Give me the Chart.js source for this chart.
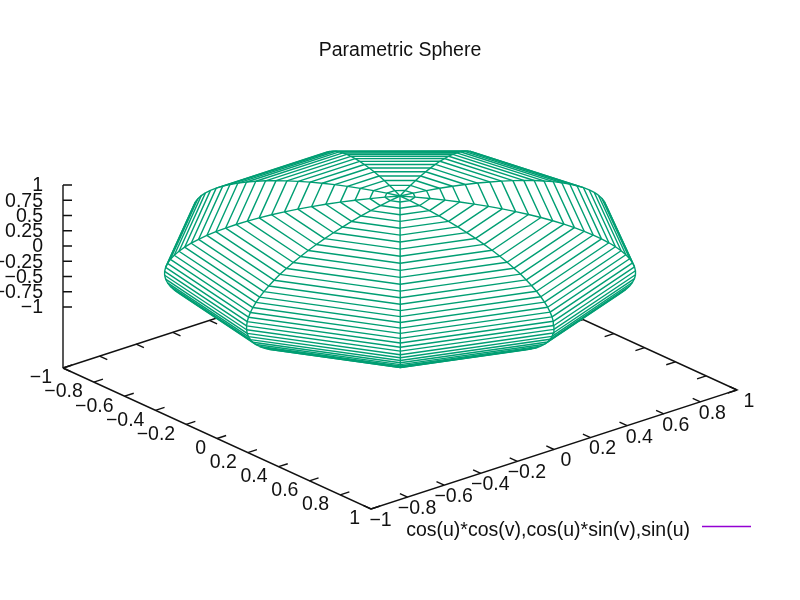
<!DOCTYPE html>
<html>
<head>
<meta charset="utf-8">
<style>html,body{margin:0;padding:0;background:#fff}canvas{display:block;filter:blur(0.45px)}</style>
<script src="https://cdn.jsdelivr.net/npm/chart.js@4"></script>
</head>
<body>
<canvas id="c" width="800" height="600"></canvas>
<script>
// ---- data ----
const titleText = 'Parametric Sphere';
const legendText = 'cos(u)*cos(v),cos(u)*sin(v),sin(u)';
// latitude samples (50) and longitude samples (10), in degrees
const uDegrees = [-90,-86.33,-82.65,-78.98,-75.31,-71.63,-67.96,-64.29,-60.61,-56.94,-53.27,-49.59,-45.92,-42.24,-38.57,-34.9,-31.22,-27.55,-23.88,-20.2,-16.53,-12.86,-9.18,-5.51,-1.84,
                  1.84,5.51,9.18,12.86,16.53,20.2,23.88,27.55,31.22,34.9,38.57,42.24,45.92,49.59,53.27,56.94,60.61,64.29,67.96,71.63,75.31,78.98,82.65,86.33,90];
const vDegrees = [0,40,80,120,160,200,240,280,320,360];
const xTicks = [-1,-0.8,-0.6,-0.4,-0.2,0,0.2,0.4,0.6,0.8,1];
const yTicks = [-1,-0.8,-0.6,-0.4,-0.2,0,0.2,0.4,0.6,0.8,1];
const zTicks = [-1,-0.75,-0.5,-0.25,0,0.25,0.5,0.75,1];

// ---- styles ----
const SURFACE = '#009e73', KEY = '#9400d3', INK = '#111111';
const FONT = '"Liberation Sans", Arial, sans-serif';
const TICK_FONT = '19.5px ' + FONT;
const LINE_W = 1.4;

// ---- orthographic view (set view 67,50): data units -> chart scale units ----
const ORIGIN = [400, 257], EX = [154, 70.5], EY = [183, -59.5], EZ = [0, -61];
function project(x, y, z) {
  return { x: ORIGIN[0] + EX[0]*x + EY[0]*y + EZ[0]*z,
           y: ORIGIN[1] + EX[1]*x + EY[1]*y + EZ[1]*z };
}
const rad = d => d * Math.PI / 180;
const surf = (u, v) => project(Math.cos(rad(u))*Math.cos(rad(v)), Math.cos(rad(u))*Math.sin(rad(v)), Math.sin(rad(u)));

// ---- surface facets: only those facing the viewer are kept (hidden3d) ----
const GAP = { x: NaN, y: NaN };
const nU = uDegrees.length, nV = vDegrees.length;
const front = [];
const facetSets = [];
for (let i = 0; i < nU - 1; i++) {
  front[i] = [];
  for (let j = 0; j < nV - 1; j++) {
    const p = [surf(uDegrees[i],vDegrees[j]), surf(uDegrees[i],vDegrees[j+1]), surf(uDegrees[i+1],vDegrees[j+1]), surf(uDegrees[i+1],vDegrees[j])];
    let a = 0;
    for (let k = 0; k < 4; k++) { const q = p[(k+1)%4]; a += p[k].x*q.y - q.x*p[k].y; }
    front[i][j] = a < -1e-9;
    if (front[i][j]) facetSets.push({ data: [...p, p[0]], showLine: true, fill: 'shape', backgroundColor: '#ffffff',
                                      borderColor: '#ffffff', borderWidth: 1, pointRadius: 0, label: 'facet' });
  }
}
const isFront = (i, j) => i >= 0 && i < nU - 1 && front[i][(j + nV - 1) % (nV - 1)];
const lineStyle = { showLine: true, fill: false, borderColor: SURFACE, borderWidth: LINE_W, pointRadius: 0 };
const curveSets = [];
for (let i = 0; i < nU; i++) {           // latitude rings
  const pts = [];
  for (let j = 0; j < nV - 1; j++) {
    if (isFront(i-1, j) || isFront(i, j)) pts.push(surf(uDegrees[i],vDegrees[j]), surf(uDegrees[i],vDegrees[j+1]), GAP);
  }
  if (pts.length) curveSets.push({ ...lineStyle, data: pts, label: 'ring' });
}
for (let j = 0; j < nV - 1; j++) {       // meridians
  const pts = [];
  for (let i = 0; i < nU - 1; i++) {
    if (isFront(i, j-1) || isFront(i, j)) pts.push(surf(uDegrees[i],vDegrees[j]), surf(uDegrees[i+1],vDegrees[j]), GAP);
  }
  if (pts.length) curveSets.push({ ...lineStyle, data: pts, label: 'meridian' });
}

// ---- axes ----
const axisStyle = { showLine: true, fill: false, borderColor: INK, borderWidth: LINE_W, pointRadius: 0, label: 'axis' };
const axisSets = [];
const baseZ = -2;
const corner = (x, y) => project(x, y, baseZ);
axisSets.push({ ...axisStyle, data: [corner(-1,-1), corner(1,-1), corner(1,1), corner(-1,1), corner(-1,-1)] });
axisSets.push({ ...axisStyle, data: [corner(-1,-1), project(-1,-1,1)] });
const TIC = 0.05;
const tickPts = [];
for (const t of xTicks) {
  tickPts.push(project(t,-1,baseZ), project(t,-1+TIC,baseZ), GAP);
  tickPts.push(project(t, 1,baseZ), project(t, 1-TIC,baseZ), GAP);
}
for (const t of yTicks) {
  tickPts.push(project(-1,t,baseZ), project(-1+TIC,t,baseZ), GAP);
  tickPts.push(project( 1,t,baseZ), project( 1-TIC,t,baseZ), GAP);
}
axisSets.push({ ...axisStyle, data: tickPts });
const zTickPts = [];
for (const t of zTicks) {
  const a = project(-1,-1,t);
  zTickPts.push(a, { x: a.x + 9, y: a.y }, GAP);
}
axisSets.push({ ...axisStyle, data: zTickPts });

// legend key
const keySet = { showLine: true, fill: false, borderColor: KEY, borderWidth: LINE_W, pointRadius: 0, label: legendText,
                 data: [{ x: 702, y: 526.5 }, { x: 751, y: 526.5 }] };

const fmt = t => (t < 0 ? '\u2212' : '') + String(Math.abs(t));

const labelPlugin = {
  id: 'gnuplotLabels',
  afterDraw(chart) {
    const { ctx, scales: { x: sx, y: sy } } = chart;
    const at = p => [sx.getPixelForValue(p.x), sy.getPixelForValue(p.y)];
    ctx.save();
    ctx.fillStyle = INK;
    ctx.font = TICK_FONT;
    ctx.textBaseline = 'middle';
    ctx.textAlign = 'right';
    for (const t of xTicks) { const [a, b] = at(project(t,-1,baseZ)); ctx.fillText(fmt(t), a - 11, b + 10); }
    for (const t of zTicks) { const [a, b] = at(project(-1,-1,t)); ctx.fillText(fmt(t), a - 20, b + 1); }
    ctx.textAlign = 'center';
    for (const t of yTicks) { const [a, b] = at(project(1,t,baseZ)); ctx.fillText(fmt(t), a + (t < 0 ? 9.5 : 12), b + 11.5); }
    ctx.textAlign = 'right';
    const [lx, ly] = at({ x: 690, y: 530.5 });
    ctx.fillText(legendText, lx, ly);
    ctx.restore();
  }
};

new Chart(document.getElementById('c'), {
  type: 'scatter',
  data: { datasets: [...curveSets, ...facetSets, ...axisSets, keySet] },
  plugins: [labelPlugin],
  options: {
    responsive: false,
    animation: false,
    layout: { padding: 0 },
    elements: { line: { tension: 0 } },
    plugins: {
      legend: { display: false },
      tooltip: { enabled: false },
      title: { display: true, text: titleText, color: INK, font: { family: FONT, size: 19.5, weight: 'normal', lineHeight: 1 },
               padding: { top: 41, bottom: 19.5 } }
    },
    scales: {
      x: { type: 'linear', display: false, min: 0, max: 800 },
      y: { type: 'linear', display: false, min: 80, max: 600, reverse: true }
    }
  }
});
</script>
</body>
</html>
